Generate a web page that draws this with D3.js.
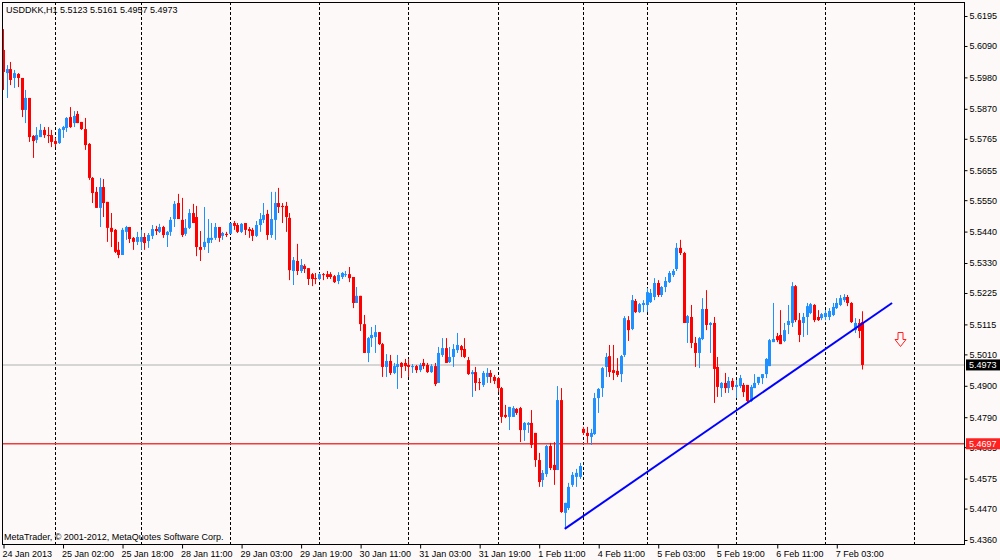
<!DOCTYPE html>
<html><head><meta charset="utf-8">
<script src="https://cdn.jsdelivr.net/npm/d3@7"></script>
<style>
html,body{margin:0;padding:0;background:#FCF9F8;}
svg{display:block;}
text{font-family:"Liberation Sans",Arial,sans-serif;font-size:9px;fill:#000;}
</style></head><body>
<svg id="chart" width="1000" height="560"></svg>
<script>
const symbolTitle = "USDDKK,H1";
const lastOHLC = ["5.5123", "5.5161", "5.4957", "5.4973"];
const copyrightText = "MetaTrader, \u00A9 2001-2012, MetaQuotes Software Corp.";

const openP = [
5.6076,5.5995,5.6009,5.5978,5.5992,5.5978,5.5866,5.5908,5.5775,5.5761,
5.5771,5.5796,5.5778,5.5778,5.5757,5.5750,5.5796,5.5803,5.5841,5.5820,
5.5852,5.5824,5.5799,5.5747,5.5628,5.5579,5.5523,5.5596,5.5544,5.5453,
5.5446,5.5376,5.5358,5.5439,5.5456,5.5418,5.5404,5.5404,5.5421,5.5407,
5.5425,5.5449,5.5439,5.5456,5.5428,5.5439,5.5484,5.5540,5.5481,5.5432,
5.5453,5.5505,5.5491,5.5386,5.5386,5.5400,5.5411,5.5418,5.5456,5.5425,
5.5432,5.5432,5.5470,5.5463,5.5439,5.5470,5.5449,5.5446,5.5425,5.5463,
5.5481,5.5502,5.5428,5.5481,5.5540,5.5530,5.5530,5.5488,5.5302,5.5337,
5.5302,5.5320,5.5312,5.5291,5.5277,5.5274,5.5291,5.5291,5.5291,5.5284,
5.5267,5.5281,5.5288,5.5291,5.5281,5.5190,5.5215,5.5116,5.5015,5.5067,
5.5071,5.5088,5.5046,5.4966,5.4987,5.4945,5.4966,5.4980,5.4980,5.4973,
5.4966,5.4969,5.4955,5.4980,5.4973,5.4948,5.4969,5.4910,5.5008,5.5032,
5.4983,5.5001,5.5025,5.5039,5.5029,5.4990,5.4941,5.4948,5.4913,5.4903,
5.4931,5.4945,5.4931,5.4927,5.4892,5.4798,5.4791,5.4791,5.4819,5.4822,
5.4745,5.4763,5.4770,5.4735,5.4640,5.4570,5.4591,5.4689,5.4623,5.4605,
5.4850,5.4455,5.4472,5.4553,5.4581,5.4581,5.4749,5.4735,5.4721,5.4731,
5.4857,5.4892,5.4966,5.5004,5.4955,5.4952,5.4941,5.5008,5.5130,5.5099,
5.5197,5.5158,5.5183,5.5183,5.5193,5.5211,5.5260,5.5218,5.5246,5.5263,
5.5288,5.5309,5.5383,5.5365,5.5120,5.5141,5.5050,5.5015,5.5064,5.5169,
5.5113,5.5120,5.4966,5.4892,5.4910,5.4892,5.4917,5.4896,5.4899,5.4903,
5.4903,5.4847,5.4892,5.4910,5.4927,5.4941,5.4969,5.5053,5.5074,5.5078,
5.5057,5.5113,5.5120,5.5249,5.5130,5.5120,5.5141,5.5155,5.5183,5.5141,
5.5137,5.5141,5.5141,5.5148,5.5172,5.5183,5.5200,5.5211,5.5190,5.5095,
5.5120,5.5123];
const highP = [
5.6149,5.6023,5.6034,5.6006,5.5995,5.5978,5.5936,5.5908,5.5778,5.5806,
5.5817,5.5806,5.5806,5.5796,5.5768,5.5803,5.5810,5.5841,5.5876,5.5862,
5.5862,5.5824,5.5838,5.5750,5.5631,5.5596,5.5628,5.5624,5.5544,5.5505,
5.5449,5.5404,5.5453,5.5460,5.5456,5.5421,5.5439,5.5446,5.5435,5.5435,
5.5463,5.5460,5.5467,5.5460,5.5442,5.5491,5.5547,5.5572,5.5558,5.5484,
5.5519,5.5537,5.5530,5.5442,5.5526,5.5484,5.5470,5.5470,5.5456,5.5439,
5.5439,5.5470,5.5477,5.5470,5.5470,5.5470,5.5456,5.5453,5.5477,5.5505,
5.5540,5.5516,5.5579,5.5579,5.5593,5.5540,5.5544,5.5505,5.5351,5.5397,
5.5344,5.5326,5.5312,5.5295,5.5295,5.5295,5.5295,5.5302,5.5298,5.5288,
5.5298,5.5298,5.5302,5.5316,5.5281,5.5246,5.5215,5.5148,5.5071,5.5106,
5.5113,5.5088,5.5050,5.5011,5.5008,5.4980,5.5008,5.4983,5.4994,5.4994,
5.4976,5.4973,5.4980,5.4994,5.4980,5.4976,5.4980,5.5036,5.5067,5.5067,
5.5036,5.5046,5.5085,5.5043,5.5067,5.5001,5.4955,5.4966,5.4927,5.4952,
5.4962,5.4955,5.4938,5.4931,5.4896,5.4833,5.4826,5.4829,5.4822,5.4826,
5.4773,5.4773,5.4815,5.4735,5.4665,5.4605,5.4693,5.4700,5.4703,5.4899,
5.4892,5.4490,5.4560,5.4598,5.4609,5.4630,5.4756,5.4756,5.4749,5.4875,
5.4892,5.4966,5.5015,5.5043,5.5043,5.4997,5.5008,5.5144,5.5144,5.5218,
5.5204,5.5190,5.5200,5.5242,5.5239,5.5277,5.5270,5.5249,5.5281,5.5302,
5.5309,5.5400,5.5411,5.5369,5.5148,5.5183,5.5071,5.5071,5.5207,5.5235,
5.5123,5.5141,5.5001,5.4913,5.4945,5.4931,5.4927,5.4920,5.4938,5.4910,
5.4903,5.4903,5.4941,5.4931,5.4941,5.4997,5.5064,5.5190,5.5085,5.5165,
5.5120,5.5183,5.5263,5.5253,5.5155,5.5155,5.5190,5.5190,5.5186,5.5165,
5.5155,5.5165,5.5172,5.5190,5.5207,5.5218,5.5221,5.5218,5.5193,5.5137,
5.5134,5.5161];
const lowP = [
5.5936,5.5908,5.5953,5.5943,5.5946,5.5841,5.5820,5.5754,5.5698,5.5750,
5.5771,5.5768,5.5750,5.5736,5.5736,5.5747,5.5768,5.5789,5.5803,5.5806,
5.5820,5.5796,5.5726,5.5621,5.5540,5.5523,5.5456,5.5491,5.5404,5.5386,
5.5365,5.5347,5.5358,5.5411,5.5400,5.5376,5.5393,5.5376,5.5376,5.5383,
5.5414,5.5428,5.5435,5.5418,5.5386,5.5425,5.5456,5.5484,5.5421,5.5425,
5.5449,5.5470,5.5354,5.5337,5.5376,5.5365,5.5400,5.5411,5.5404,5.5411,
5.5421,5.5432,5.5446,5.5435,5.5435,5.5428,5.5418,5.5407,5.5421,5.5439,
5.5470,5.5411,5.5418,5.5411,5.5505,5.5470,5.5439,5.5270,5.5253,5.5288,
5.5295,5.5295,5.5253,5.5249,5.5256,5.5270,5.5270,5.5274,5.5274,5.5260,
5.5256,5.5274,5.5281,5.5263,5.5172,5.5190,5.5092,5.5015,5.4983,5.5036,
5.5015,5.5043,5.4931,5.4931,5.4938,5.4941,5.4889,5.4927,5.4952,5.4931,
5.4945,5.4945,5.4948,5.4959,5.4945,5.4945,5.4899,5.4910,5.5001,5.4980,
5.4980,5.4966,5.5015,5.5001,5.4997,5.4938,5.4861,5.4882,5.4885,5.4896,
5.4910,5.4910,5.4906,5.4878,5.4770,5.4787,5.4745,5.4791,5.4798,5.4703,
5.4707,5.4735,5.4682,5.4616,5.4546,5.4546,5.4581,5.4605,5.4553,5.4605,
5.4455,5.4399,5.4465,5.4546,5.4546,5.4574,5.4728,5.4700,5.4693,5.4728,
5.4805,5.4861,5.4931,5.4931,5.4920,5.4931,5.4913,5.5001,5.5057,5.5095,
5.5155,5.5155,5.5158,5.5158,5.5190,5.5200,5.5211,5.5211,5.5228,5.5260,
5.5281,5.5302,5.5358,5.5120,5.5050,5.5032,5.4966,5.4962,5.5060,5.5095,
5.5015,5.4840,5.4861,5.4861,5.4875,5.4875,5.4885,5.4857,5.4892,5.4861,
5.4843,5.4843,5.4892,5.4903,5.4906,5.4927,5.4969,5.5053,5.5053,5.5046,
5.5053,5.5081,5.5106,5.5123,5.5053,5.5071,5.5078,5.5151,5.5123,5.5127,
5.5130,5.5130,5.5130,5.5144,5.5169,5.5179,5.5193,5.5179,5.5120,5.5085,
5.5067,5.4957];
const closeP = [
5.5999,5.6009,5.5971,5.5995,5.5978,5.5866,5.5908,5.5771,5.5757,5.5778,
5.5796,5.5778,5.5775,5.5754,5.5747,5.5799,5.5806,5.5838,5.5806,5.5845,
5.5820,5.5799,5.5743,5.5628,5.5575,5.5523,5.5596,5.5540,5.5453,5.5439,
5.5369,5.5358,5.5446,5.5456,5.5414,5.5404,5.5421,5.5421,5.5400,5.5428,
5.5449,5.5442,5.5456,5.5428,5.5439,5.5481,5.5537,5.5484,5.5428,5.5453,
5.5505,5.5470,5.5386,5.5376,5.5404,5.5418,5.5418,5.5456,5.5418,5.5435,
5.5428,5.5470,5.5460,5.5439,5.5467,5.5446,5.5442,5.5425,5.5463,5.5484,
5.5498,5.5428,5.5484,5.5540,5.5526,5.5526,5.5491,5.5305,5.5340,5.5302,
5.5323,5.5309,5.5274,5.5274,5.5274,5.5291,5.5288,5.5281,5.5281,5.5263,
5.5288,5.5295,5.5291,5.5277,5.5190,5.5215,5.5116,5.5015,5.5067,5.5078,
5.5088,5.5046,5.4966,5.4987,5.4945,5.4969,5.4976,5.4966,5.4969,5.4966,
5.4969,5.4955,5.4973,5.4969,5.4948,5.4969,5.4906,5.5015,5.5032,5.4980,
5.5001,5.5029,5.5043,5.5025,5.5001,5.4941,5.4948,5.4910,5.4910,5.4945,
5.4945,5.4931,5.4917,5.4892,5.4791,5.4791,5.4826,5.4822,5.4805,5.4745,
5.4770,5.4770,5.4693,5.4640,5.4563,5.4595,5.4689,5.4612,5.4605,5.4850,
5.4458,5.4490,5.4546,5.4588,5.4595,5.4619,5.4735,5.4724,5.4735,5.4857,
5.4889,5.4962,5.5001,5.4948,5.4945,5.4938,5.5004,5.5137,5.5095,5.5200,
5.5158,5.5186,5.5190,5.5228,5.5225,5.5260,5.5218,5.5246,5.5267,5.5295,
5.5302,5.5383,5.5365,5.5120,5.5144,5.5050,5.5015,5.5067,5.5169,5.5113,
5.5120,5.4959,5.4896,5.4910,5.4892,5.4917,5.4896,5.4903,5.4927,5.4878,
5.4847,5.4896,5.4910,5.4931,5.4941,5.4994,5.5060,5.5064,5.5060,5.5046,
5.5095,5.5127,5.5249,5.5130,5.5078,5.5141,5.5179,5.5186,5.5130,5.5130,
5.5151,5.5155,5.5162,5.5176,5.5190,5.5207,5.5211,5.5190,5.5123,5.5120,
5.5092,5.4973];

const timeLabels = ["24 Jan 2013","25 Jan 02:00","25 Jan 18:00","28 Jan 11:00","29 Jan 03:00",
  "29 Jan 19:00","30 Jan 11:00","31 Jan 03:00","31 Jan 19:00","1 Feb 11:00",
  "4 Feb 11:00","5 Feb 03:00","5 Feb 19:00","6 Feb 11:00","7 Feb 03:00"];
const timeLabelBars = [0,16,32,48,64,80,96,112,128,144,160,176,192,208,224];
const daySeparatorBars = [14,37,61,85,109,133,156,173,197,221,245];
const priceTicks = [5.6195,5.6090,5.5980,5.5870,5.5765,5.5655,5.5550,5.5440,5.5330,
  5.5225,5.5115,5.5010,5.4900,5.4790,5.4685,5.4575,5.4470,5.4360];
const bidPrice = 5.4973;
const levelPrice = 5.4697;
const trendFrom = {bar: 151, price: 5.4399};
const trendTo = {bar: 239, price: 5.5190};
const arrowTip = {bar: 241, price: 5.5039};

const svg = d3.select("#chart");
const L = 2, R = 965, T = 2, B = 545;
const x = d3.scaleLinear().domain([0, 245]).range([3, 914.4]);
const y = d3.scaleLinear().domain([5.6251, 5.4360]).range([0, 540]);
const fmt = d3.format(".4f");

svg.append("rect").attr("x",0).attr("y",0).attr("width",1000).attr("height",560).attr("fill","#FCF9F8");

svg.append("defs").append("clipPath").attr("id","plotclip")
  .append("rect").attr("x",L).attr("y",T).attr("width",R-L).attr("height",B-T);

const plot = svg.append("g").attr("clip-path","url(#plotclip)");

// day separators
plot.selectAll("line.sep").data(daySeparatorBars).enter().append("line")
  .attr("class","sep")
  .attr("x1", d => Math.round(x(d)) + 0.5).attr("x2", d => Math.round(x(d)) + 0.5)
  .attr("y1", T).attr("y2", B)
  .attr("stroke","#000").attr("stroke-width",1).attr("stroke-dasharray","3,2");

// horizontal lines
plot.append("line").attr("x1",L).attr("x2",R)
  .attr("y1", y(bidPrice)).attr("y2", y(bidPrice))
  .attr("stroke","#C8C8C8").attr("stroke-width",1.5);
plot.append("line").attr("x1",L).attr("x2",R)
  .attr("y1", y(levelPrice)).attr("y2", y(levelPrice))
  .attr("stroke","#F03C3C").attr("stroke-width",1.4);

// candles
const bars = d3.range(openP.length).map(i => ({i, o: openP[i], h: highP[i], l: lowP[i], c: closeP[i]}));
const colorOf = d => d.c >= d.o ? "#1E90FF" : "#FF0000";
const cg = plot.append("g");
cg.selectAll("line.wick").data(bars).enter().append("line")
  .attr("class","wick")
  .attr("x1", d => Math.round(x(d.i)) + 0.5).attr("x2", d => Math.round(x(d.i)) + 0.5)
  .attr("y1", d => y(d.h)).attr("y2", d => y(d.l))
  .attr("stroke", colorOf).attr("stroke-width",1);
cg.selectAll("rect.body").data(bars).enter().append("rect")
  .attr("class","body")
  .attr("x", d => Math.round(x(d.i)) - 1).attr("width", 3)
  .attr("y", d => y(Math.max(d.o, d.c)))
  .attr("height", d => Math.max(1, Math.abs(y(d.o) - y(d.c))))
  .attr("fill", colorOf);

// trend line
plot.append("line")
  .attr("x1", x(trendFrom.bar)).attr("y1", y(trendFrom.price))
  .attr("x2", x(trendTo.bar)).attr("y2", y(trendTo.price))
  .attr("stroke","#0000FF").attr("stroke-width",2);

// sell arrow (hollow)
const ax = Math.round(x(arrowTip.bar)) + 0.5, ay = Math.round(y(arrowTip.price)) + 0.5;
plot.append("path")
  .attr("d", `M${ax-2.5},${ay-14} L${ax+2.5},${ay-14} L${ax+2.5},${ay-7} L${ax+5.5},${ay-7} L${ax},${ay} L${ax-5.5},${ay-7} L${ax-2.5},${ay-7} Z`)
  .attr("fill","none").attr("stroke","#FF2020").attr("stroke-width",1);

// frame
svg.append("rect").attr("x",L+0.5).attr("y",T+0.5).attr("width",R-L-1).attr("height",B-T-1)
  .attr("fill","none").attr("stroke","#000").attr("stroke-width",1);

// price axis
const yAxis = svg.append("g").attr("transform",`translate(${R-0.5},0)`)
  .call(d3.axisRight(y).tickValues(priceTicks).tickSize(3).tickPadding(2).tickFormat(fmt));
yAxis.select(".domain").remove();
yAxis.selectAll("text").style("font-family",'"Liberation Sans",Arial,sans-serif').style("font-size","9px").attr("fill","#000");
yAxis.selectAll("line").attr("stroke","#000");

// time axis
const xAxis = svg.append("g").attr("transform",`translate(0,${B-0.5})`)
  .call(d3.axisBottom(x).tickValues(timeLabelBars).tickSize(4).tickPadding(2).tickFormat((d,i) => timeLabels[i]));
xAxis.select(".domain").remove();
xAxis.selectAll("text").attr("text-anchor","start").attr("dx","-1")
  .style("font-family",'"Liberation Sans",Arial,sans-serif').style("font-size","9px").attr("fill","#000");
xAxis.selectAll("line").attr("stroke","#000").attr("transform","translate(0.5,0)");

// price tags
function tag(price, bg) {
  const g = svg.append("g");
  const yy = y(price);
  g.append("rect").attr("x", R + 1).attr("y", yy - 5.5).attr("width", 34).attr("height", 11).attr("fill", bg);
  g.append("text").attr("x", R + 4).attr("y", yy).attr("dy","0.35em").attr("fill","#FFF").style("fill","#FFF").text(fmt(price));
}
tag(bidPrice, "#000000");
tag(levelPrice, "#FF2020");

// title & copyright
svg.append("text").attr("x",6).attr("y",13).text(symbolTitle + "  " + lastOHLC.join(" "));
svg.append("text").attr("x",4).attr("y",540).text(copyrightText);
</script>
</body></html>
